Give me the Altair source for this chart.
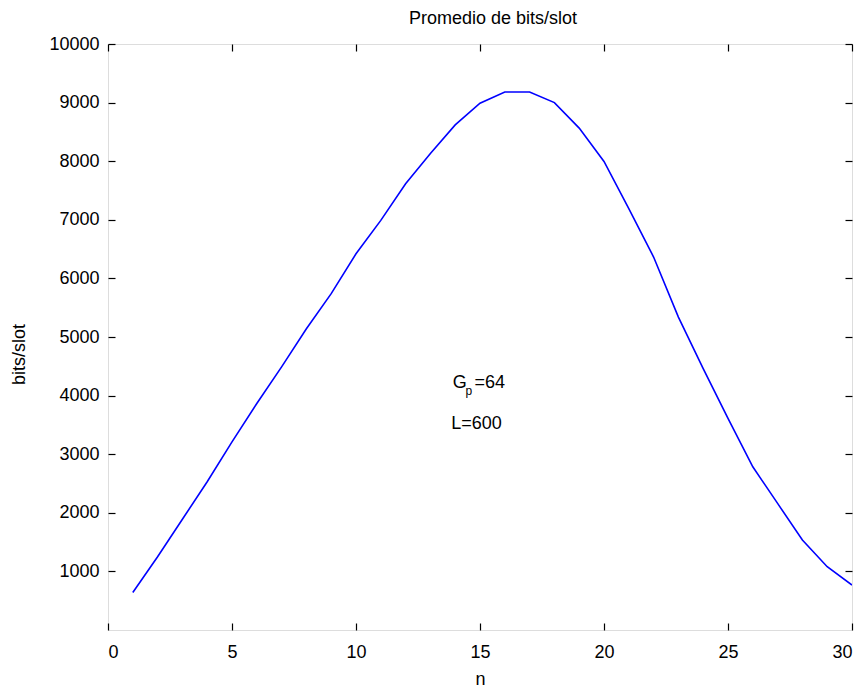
import altair as alt
import pandas as pd

n_values = list(range(1, 31))
bits_per_slot = [640, 1250, 1890, 2530, 3210, 3865, 4490, 5140, 5740, 6420,
                 6990, 7615, 8130, 8620, 8990, 9180, 9180, 9000, 8565, 7995,
                 7190, 6365, 5340, 4460, 3610, 2785, 2160, 1535, 1080, 767]

x_ticks = [0, 5, 10, 15, 20, 25, 30]
y_ticks = [1000, 2000, 3000, 4000, 5000, 6000, 7000, 8000, 9000, 10000]

ann_text = ["G", "p", "=64", "L=600"]
ann_x = [13.9, 14.42, 14.78, 13.84]
ann_y = [4210, 4070, 4210, 3512]
ann_size = [18, 12, 18, 18]

FONT = "Liberation Sans"
df = pd.DataFrame({"n": n_values, "bits": bits_per_slot})
ann = pd.DataFrame({"t": ann_text, "x": ann_x, "y": ann_y, "s": ann_size})

xs = alt.Scale(domain=[0, 30], nice=False, zero=False)
ys = alt.Scale(domain=[0, 10000], nice=False, zero=False)

TS = 7
common = dict(domain=False, grid=False, tickSize=TS, tickColor="black", tickWidth=1.2,
              labelFont=FONT, labelFontSize=18, labelColor="black", format="d",
              titleFont=FONT, titleFontSize=18, titleFontWeight="normal", titleColor="black")

line = alt.Chart(df).mark_line(color="#0000ff", strokeWidth=1.6, clip=True).encode(
    x=alt.X("n:Q", scale=xs, axis=alt.Axis(values=x_ticks, orient="bottom", offset=-TS,
                                           labelPadding=13, title="n", titlePadding=9, **common)),
    y=alt.Y("bits:Q", scale=ys, axis=alt.Axis(values=y_ticks, orient="left", offset=-TS,
                                              labelPadding=9, title="bits/slot", titlePadding=20,
                                              titleY=310, **common)),
)

frame_axes = alt.Chart(df).mark_point(opacity=0).encode(
    x=alt.X("n:Q", scale=xs, axis=alt.Axis(values=x_ticks, orient="top", offset=-TS, labels=False,
                                           title=None, **common)),
    y=alt.Y("bits:Q", scale=ys, axis=alt.Axis(values=y_ticks, orient="right", offset=-TS, labels=False,
                                              title=None, **common)),
)

text = alt.Chart(ann).mark_text(align="left", baseline="middle", font=FONT, color="black").encode(
    x=alt.X("x:Q", scale=xs, axis=None),
    y=alt.Y("y:Q", scale=ys, axis=None),
    text="t:N",
    size=alt.Size("s:Q", scale=None, legend=None),
)

chart = alt.layer(line, frame_axes, text).resolve_axis(x="independent", y="independent").properties(
    width=744, height=586,
    title=alt.TitleParams("Promedio de bits/slot", font=FONT, fontSize=18, fontWeight="normal",
                          color="black", offset=7, dx=13),
    autosize=alt.AutoSizeParams(type="none"),
    padding={"left": 108, "top": 44, "right": 6, "bottom": 58},
).configure_view(stroke="black", strokeWidth=1.5).configure(background="white")

chart.save("out.html", embed_options={"renderer": "svg", "actions": False})
